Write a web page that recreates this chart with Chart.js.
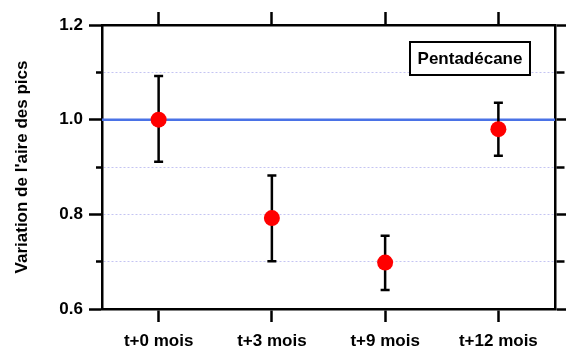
<!DOCTYPE html>
<html>
<head>
<meta charset="utf-8">
<script src="https://cdn.jsdelivr.net/npm/chart.js@4.4.1/dist/chart.umd.min.js"></script>
<style>
  html, body { margin: 0; padding: 0; background: #fff; }
  #wrap { width: 566px; height: 348px; }
</style>
</head>
<body>
<div id="wrap"><canvas id="chart" width="566" height="348"></canvas></div>
<script>
// données
const categories = ['t+0 mois', 't+3 mois', 't+9 mois', 't+12 mois'];
const values = [1.0, 0.792, 0.698, 0.980];
const errLow = [0.911, 0.701, 0.640, 0.924];
const errHigh = [1.092, 0.882, 0.755, 1.036];
const refValue = 1.0;
const yTicks = [0.6, 0.8, 1.0, 1.2];
const boxLabel = 'Pentadécane';

const FONT = 'Arial, "Liberation Sans", Helvetica, sans-serif';

// barres d'erreur, dessinées sous les points
const errorBars = {
    id: 'errorBars',
    beforeDatasetsDraw(chart) {
        const ctx = chart.ctx;
        const xs = chart.scales.x, ys = chart.scales.y;
        ctx.save();
        ctx.strokeStyle = '#000';
        ctx.lineWidth = 2.5;
        categories.forEach((c, i) => {
            const x = xs.getPixelForValue(i);
            const y1 = ys.getPixelForValue(errLow[i]);
            const y2 = ys.getPixelForValue(errHigh[i]);
            ctx.beginPath();
            ctx.moveTo(x, y1); ctx.lineTo(x, y2);
            ctx.moveTo(x - 4.5, y1); ctx.lineTo(x + 4.5, y1);
            ctx.moveTo(x - 4.5, y2); ctx.lineTo(x + 4.5, y2);
            ctx.stroke();
        });
        ctx.restore();
    }
};

// ligne de référence à 1.0
const refLine = {
    id: 'refLine',
    beforeDatasetsDraw(chart) {
        const ctx = chart.ctx;
        const a = chart.chartArea;
        const y = chart.scales.y.getPixelForValue(refValue);
        ctx.save();
        ctx.strokeStyle = '#4a72e6';
        ctx.lineWidth = 2.5;
        ctx.beginPath();
        ctx.moveTo(a.left, y); ctx.lineTo(a.right, y);
        ctx.stroke();
        ctx.restore();
    }
};

// encadré "Pentadécane"
const labelBox = {
    id: 'labelBox',
    afterDraw(chart) {
        const ctx = chart.ctx;
        const a = chart.chartArea;
        const w = 120, h = 33;
        const x = a.right - 25 - w, y = a.top + 17;
        ctx.save();
        ctx.fillStyle = '#fff';
        ctx.fillRect(x, y, w, h);
        ctx.strokeStyle = '#000';
        ctx.lineWidth = 2;
        ctx.strokeRect(x, y, w, h);
        ctx.fillStyle = '#000';
        ctx.font = 'bold 17px ' + FONT;
        ctx.textAlign = 'center';
        ctx.textBaseline = 'middle';
        ctx.fillText(boxLabel, x + w / 2, y + h / 2 + 1);
        ctx.restore();
    }
};

function isMajor(v) {
    return yTicks.some(t => Math.abs(t - v) < 1e-6);
}
function isGridValue(v) {
    const k = Math.round(v * 10);
    return k === 7 || k === 8 || k === 9 || k === 11;
}

new Chart(document.getElementById('chart').getContext('2d'), {
    type: 'line',
    data: {
        labels: categories,
        datasets: [{
            data: values,
            showLine: false,
            pointRadius: 8,
            pointHoverRadius: 8,
            pointBackgroundColor: '#ff0000',
            pointBorderWidth: 0,
            borderColor: '#ff0000'
        }]
    },
    options: {
        responsive: false,
        animation: false,
        layout: { padding: 0 },
        plugins: { legend: { display: false }, tooltip: { enabled: false } },
        scales: {
            x: {
                position: 'bottom',
                offset: true,
                grid: { offset: false, drawOnChartArea: false, tickLength: 13, tickWidth: 2.5, tickColor: '#000' },
                border: { color: '#000', width: 2.5 },
                ticks: { color: '#000', font: { family: FONT, size: 17, weight: 'bold' }, padding: 9, maxRotation: 0 },
                afterFit(s) { s.height = 39; }
            },
            x2: {
                position: 'top',
                type: 'category',
                labels: categories,
                offset: true,
                grid: { offset: false, drawOnChartArea: false, tickLength: 13, tickWidth: 2.5, tickColor: '#000' },
                border: { color: '#000', width: 2.5 },
                ticks: { display: false },
                afterFit(s) { s.height = 25; }
            },
            y: {
                position: 'left',
                min: 0.6,
                max: 1.2,
                grid: {
                    color: (c) => isGridValue(c.tick.value) ? '#c4c4f2' : 'rgba(0,0,0,0)',
                    lineWidth: 1,
                    tickLength: 13,
                    tickWidth: 2.5,
                    tickColor: '#000',
                    tickBorderDash: (c) => isMajor(c.tick.value) ? [] : [0, 7, 7, 60]
                },
                border: { color: '#000', width: 2.5, dash: [2, 2] },
                ticks: {
                    stepSize: 0.1,
                    color: '#000',
                    padding: 6,
                    font: { family: FONT, size: 17, weight: 'bold' },
                    callback: (v) => isMajor(v) ? v.toFixed(1) : ''
                },
                title: {
                    display: true,
                    text: "Variation de l'aire des pics",
                    color: '#000',
                    font: { family: FONT, size: 17, weight: 'bold' },
                    padding: { top: 12, bottom: 0 }
                },
                afterFit(s) { s.width = 102; }
            },
            y2: {
                position: 'right',
                min: 0.6,
                max: 1.2,
                grid: {
                    drawOnChartArea: false,
                    tickLength: 11,
                    tickWidth: 2.5,
                    tickColor: '#000',
                    tickBorderDash: (c) => isMajor(c.tick.value) ? [] : [8, 60]
                },
                border: { color: '#000', width: 2.5 },
                ticks: { stepSize: 0.1, display: false },
                afterFit(s) { s.width = 11; }
            }
        }
    },
    plugins: [refLine, errorBars, labelBox]
});
</script>
</body>
</html>
